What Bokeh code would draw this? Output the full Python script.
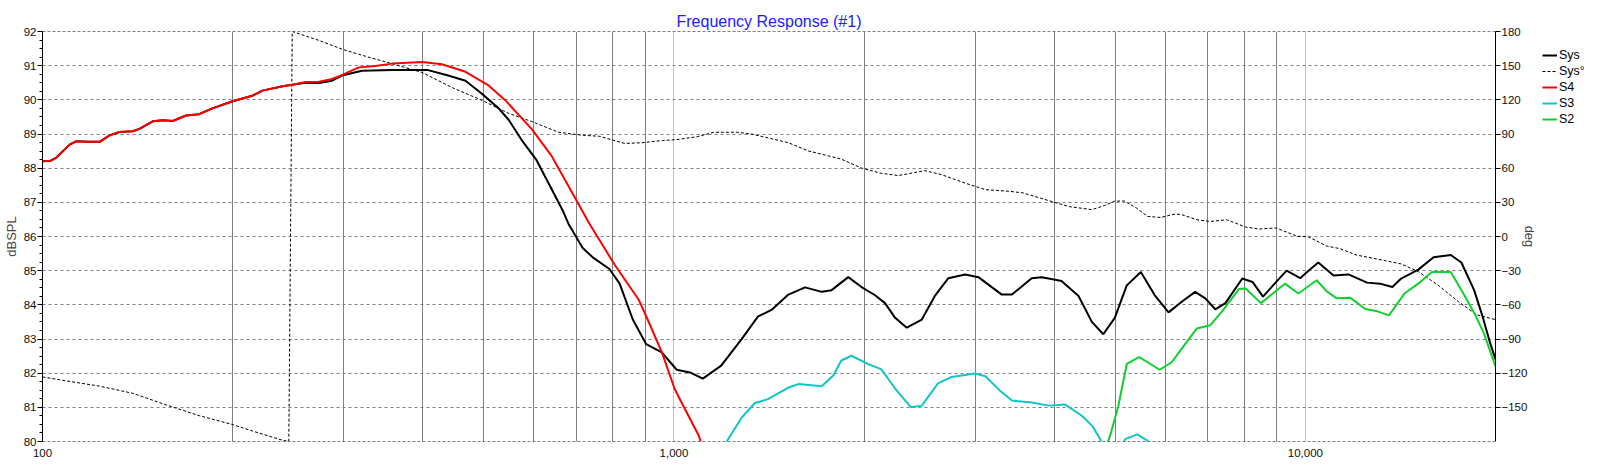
from bokeh.plotting import figure
from bokeh.layouts import row
from bokeh.models import (Range1d, LinearAxis, FixedTicker, NumeralTickFormatter,
                          Grid, Span, Legend, LegendItem)
from bokeh.embed import file_html
from bokeh.resources import INLINE

FONT = "Liberation Sans"
NAN = float("nan")

# ---------------- data ----------------
s4_f = [100, 103, 105.2, 110.4, 113.2, 118, 123.2, 127.7, 132.4, 139, 142.4, 149.5, 155.1,
        160.8, 168.8, 177, 185.8, 200, 215, 223, 240, 248.7, 261, 274, 287.5, 298.4, 317,
        336.6, 358, 399, 429, 467.6, 508.6, 540.5, 595, 640, 682, 734, 807, 880, 911, 957,
        1002, 1026, 1095, 1115]
s4_db = [88.20, 88.22, 88.31, 88.69, 88.79, 88.77, 88.77, 88.96, 89.06, 89.08, 89.15, 89.37,
         89.40, 89.38, 89.54, 89.58, 89.75, 89.96, 90.12, 90.27, 90.40, 90.44, 90.52, 90.53,
         90.61, 90.73, 90.95, 90.99, 91.06, 91.11, 91.04, 90.82, 90.42, 89.99, 89.15, 88.36,
         87.45, 86.39, 85.15, 84.14, 83.52, 82.61, 81.55, 81.17, 80.17, 79.7]

sys_f = [100, 103, 105.2, 110.4, 113.2, 118, 123.2, 127.7, 132.4, 139, 142.4, 149.5, 155.1,
         160.8, 168.8, 177, 185.8, 200, 215, 223, 240, 248.7, 261, 274, 287.5, 298, 320.6,
         358, 408, 439, 467.6, 496.5, 527.7, 547.6, 575.5, 604.7, 635.5, 667.8, 681.6, 716.5,
         743.6, 790.4, 820.3, 860.7, 903.6, 956.7, 1010, 1064, 1111, 1188, 1279, 1359, 1427,
         1518, 1613, 1714, 1777, 1888, 1982, 2082, 2159, 2240, 2337, 2469, 2593, 2720, 2891,
         3035, 3305, 3430, 3686, 3822, 3922, 4109, 4372, 4590, 4785, 4990, 5213, 5487, 5774,
         6071, 6370, 6690, 6941, 7199, 7470, 7944, 8246, 8567, 8990, 9337, 9811, 10060,
         10480, 11080, 11700, 12520, 13130, 13730, 14180, 15090, 15960, 16990, 17660, 18500,
         19080, 19600, 20000]
sys_db = [88.20, 88.22, 88.31, 88.69, 88.79, 88.77, 88.77, 88.96, 89.06, 89.08, 89.15, 89.37,
          89.40, 89.38, 89.54, 89.58, 89.75, 89.96, 90.12, 90.27, 90.40, 90.44, 90.50, 90.49,
          90.56, 90.71, 90.85, 90.87, 90.87, 90.71, 90.56, 90.18, 89.75, 89.41, 88.79, 88.26,
          87.50, 86.73, 86.35, 85.67, 85.39, 85.05, 84.62, 83.57, 82.85, 82.61, 82.10, 82.01,
          81.84, 82.22, 82.99, 83.66, 83.85, 84.30, 84.51, 84.38, 84.43, 84.81, 84.52, 84.28,
          84.05, 83.62, 83.33, 83.57, 84.28, 84.78, 84.89, 84.81, 84.30, 84.30, 84.78, 84.81,
          84.77, 84.70, 84.26, 83.50, 83.14, 83.62, 84.57, 84.96, 84.28, 83.78, 84.09, 84.38,
          84.19, 83.87, 84.05, 84.77, 84.67, 84.24, 84.67, 85.00, 84.78, 84.96, 85.24, 84.86,
          84.89, 84.65, 84.62, 84.52, 84.77, 85.03, 85.39, 85.46, 85.24, 84.43, 83.66, 82.90,
          82.40]

s3_f = [1190, 1214, 1279, 1342, 1409, 1518, 1575, 1714, 1789, 1841, 1910, 2028, 2129, 2240,
        2374, 2469, 2619, 2752, 2998, 3114, 3273, 3430, 3686, 3922, 4164, 4420, 4600, 4730,
        4850, 5000, 5120, 5182, 5418, 5626, 5800]
s3_db = [79.5, 80.02, 80.69, 81.12, 81.24, 81.58, 81.68, 81.62, 81.94, 82.37, 82.51, 82.27,
         82.12, 81.55, 81.00, 81.05, 81.70, 81.89, 81.99, 81.91, 81.51, 81.20, 81.14, 81.05,
         81.08, 80.76, 80.45, 80.07, 79.6, 79.4, 79.8, 80.07, 80.21, 80.02, 79.6]

s2_f = [4800, 4906, 5054, 5213, 5454, 5626, 5877, 6140, 6448, 6731, 7066, 7378, 7847, 8042,
        8502, 8878, 9279, 9747, 10420, 10800, 11210, 11770, 12440, 13000, 13560, 14350,
        15090, 15860, 16990, 17790, 18570, 19160, 20000]
s2_db = [79.7, 80.17, 81.03, 82.27, 82.47, 82.32, 82.10, 82.32, 82.85, 83.31, 83.40, 83.81,
         84.46, 84.48, 84.05, 84.33, 84.62, 84.33, 84.72, 84.40, 84.19, 84.21, 83.88, 83.81,
         83.69, 84.33, 84.62, 84.96, 84.96, 84.33, 83.71, 83.18, 82.20]

ph_f = [100, 109.1, 123.2, 139, 156.9, 177, 200, 215, 238.6, 245.5, 248.6, 274, 298, 325,
        356, 399, 446, 496.5, 547.6, 595, 657, 716.5, 761.8, 836, 888.6, 957, 1010, 1088,
        1157, 1262, 1326, 1409, 1518, 1633, 1756, 1841, 1982, 2129, 2267, 2495, 2650, 2891,
        3114, 3396, 3570, 3922, 4232, 4590, 4800, 4990, 5170, 5400, 5626, 5901, 6190, 6340,
        6740, 7066, 7505, 8042, 8443, 8990, 9690, 10110, 10800, 11340, 12070, 13000, 14180,
        15090, 16230, 17470, 18670, 20000]
ph_deg = [-123.3, -126.8, -131.4, -137.7, -147.8, -157.3, -165.1, -170.8, -178.5, -180, 180,
          172.2, 164.5, 158.2, 152.0, 144.1, 130.6, 119.6, 108.1, 101.0, 91.5, 88.9, 88.0,
          81.7, 82.3, 84.2, 85.1, 87.6, 91.5, 91.5, 90.0, 86.6, 82.3, 75.1, 70.8, 67.9, 60.1,
          55.5, 53.5, 57.8, 54.4, 46.9, 41.1, 39.7, 38.3, 31.5, 26.2, 23.6, 27.0, 31.1, 31.1,
          25.0, 17.6, 16.7, 19.5, 19.5, 14.7, 13.2, 14.7, 8.3, 6.6, 7.5, 0.3, -0.3, -8.3,
          -10.7, -16.4, -19.8, -24.1, -30.8, -42.8, -57.2, -68.7, -73.0]

x_ticks = [100, 1000, 10000]
x_minor_grid = [200, 300, 400, 500, 600, 700, 800, 900,
                2000, 3000, 4000, 5000, 6000, 7000, 8000, 9000]
y_ticks = list(range(80, 93))
deg_ticks = list(range(-150, 181, 30))
series_names = ["Sys", "Sys°", "S4", "S3", "S2"]

# ---------------- main figure ----------------
p = figure(width=1542, height=459, x_axis_type="log",
           x_range=Range1d(100, 20000), y_range=Range1d(80, 92),
           output_backend="svg", toolbar_location=None,
           title="Frequency Response (#1)",
           min_border_left=35, min_border_right=47, min_border_top=31, min_border_bottom=13)
p.outline_line_color = None
p.extra_y_ranges = {"deg": Range1d(-180, 180)}

p.title.align = "center"
p.title.offset = 8
p.title.text_color = "#2020ff"
p.title.text_font = FONT
p.title.text_font_size = "16px"
p.title.text_font_style = "normal"
p.title.standoff = 4

xa = p.xaxis[0]
xa.ticker = FixedTicker(ticks=x_ticks)
xa.formatter = NumeralTickFormatter(format="0,0")
xa.axis_line_color = None
xa.major_tick_line_color = None
xa.minor_tick_line_color = None
xa.major_label_standoff = 1
xa.major_label_text_font = FONT
xa.major_label_text_font_size = "11.5px"
xa.major_label_text_color = "#101010"

ya = p.yaxis[0]
ya.ticker = FixedTicker(ticks=y_ticks, minor_ticks=[80 + 0.25 * i for i in range(49)])
ya.axis_label = "dBSPL"
ya.axis_label_text_font = FONT
ya.axis_label_text_font_size = "13px"
ya.axis_label_text_font_style = "normal"
ya.axis_label_standoff = 2
ya.major_tick_in = 0
ya.major_tick_out = 5
ya.minor_tick_in = 0
ya.minor_tick_out = 3
ya.major_label_standoff = 1
ya.major_label_text_font = FONT
ya.major_label_text_font_size = "11.5px"
ya.major_label_text_color = "#101010"

ra = LinearAxis(y_range_name="deg", ticker=FixedTicker(ticks=deg_ticks), axis_label="deg")
ra.axis_label_text_font = FONT
ra.axis_label_text_font_size = "13px"
ra.axis_label_text_font_style = "normal"
ra.axis_label_standoff = -8
ra.major_tick_in = 0
ra.major_tick_out = 5
ra.minor_tick_line_color = None
ra.major_label_standoff = 1
ra.major_label_text_font = FONT
ra.major_label_text_font_size = "11.5px"
ra.major_label_text_color = "#101010"
p.add_layout(ra, "right")

# grids
p.xgrid.ticker = FixedTicker(ticks=x_minor_grid)
p.xgrid.grid_line_color = "black"
p.xgrid.grid_line_dash = "1 1"
p.add_layout(Grid(dimension=0, ticker=FixedTicker(ticks=[1000, 10000]),
                  grid_line_color="#8a8a8a", grid_line_dash="1 1"))
p.ygrid.ticker = FixedTicker(ticks=list(range(81, 92)))
p.ygrid.grid_line_color = "#808080"
p.ygrid.grid_line_dash = "3 3"
p.add_layout(Span(location=92, dimension="width", line_color="black", line_dash="3 2", line_width=1))
p.add_layout(Span(location=80, dimension="width", line_color="black", line_dash="3 2", line_width=1))

# styles per series (Sys, Sys°, S4, S3, S2)
styles = [dict(line_color="black", line_width=2),
          dict(line_color="black", line_width=1, line_dash="3 2"),
          dict(line_color="#ff0000", line_width=2),
          dict(line_color="#10c4c8", line_width=2),
          dict(line_color="#10d030", line_width=2)]

# curves
p.line(ph_f, ph_deg, y_range_name="deg", **styles[1])
p.line(s3_f, s3_db, **styles[3])
p.line(s2_f, s2_db, **styles[4])
p.line(sys_f, sys_db, **styles[0])
p.line(s4_f, s4_db, **styles[2])

# ---------------- legend panel ----------------
q = figure(width=42, height=459, x_range=Range1d(0, 1), y_range=Range1d(0, 1),
           output_backend="svg", toolbar_location=None,
           x_axis_location=None, y_axis_location=None, min_border=0)
q.grid.visible = False
q.outline_line_color = None
items = []
for name, st in zip(series_names, styles):
    r = q.line([NAN, NAN], [NAN, NAN], **st)   # legend proxies, draw nothing
    items.append(LegendItem(label=name, renderers=[r]))
legend = Legend(items=items, location=(0, 314))
legend.label_text_font = FONT
legend.label_text_font_size = "12.5px"
legend.label_text_color = "black"
legend.glyph_width = 15
legend.glyph_height = 16
legend.label_height = 16
legend.spacing = 0
legend.padding = 0
legend.margin = 0
legend.label_standoff = 2
legend.border_line_color = None
legend.background_fill_alpha = 0
q.add_layout(legend)

layout = row(p, q)
open("out.html", "w").write(file_html(layout, INLINE))
